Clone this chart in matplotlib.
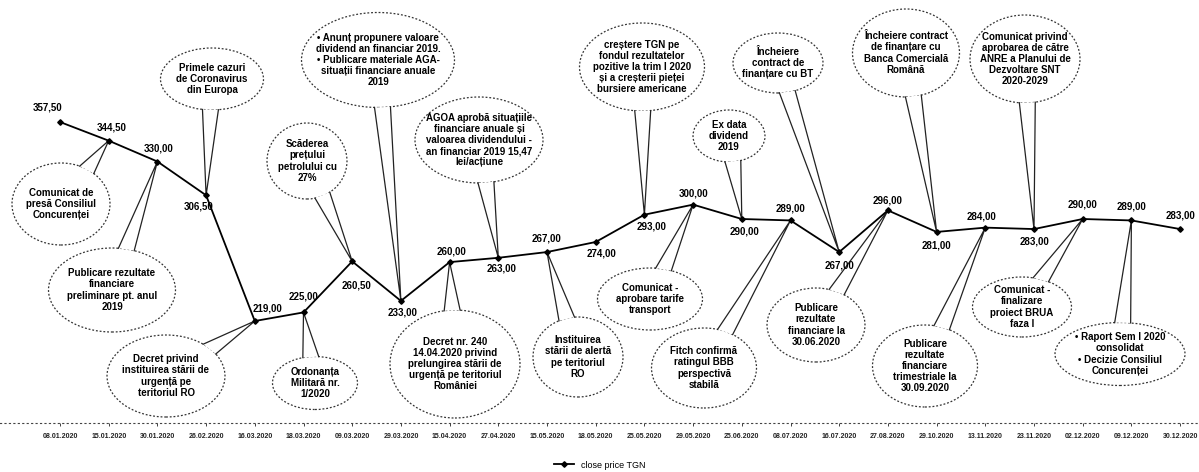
import numpy as np
import matplotlib
matplotlib.use('Agg')
import matplotlib.pyplot as plt
from matplotlib.patches import Ellipse, Polygon

plt.rcParams['font.family'] = ['Liberation Sans', 'DejaVu Sans']

dates = ['08.01.2020', '15.01.2020', '30.01.2020', '26.02.2020', '16.03.2020', '18.03.2020',
         '09.03.2020', '29.03.2020', '15.04.2020', '27.04.2020', '15.05.2020', '18.05.2020',
         '25.05.2020', '29.05.2020', '25.06.2020', '08.07.2020', '16.07.2020', '27.08.2020',
         '29.10.2020', '13.11.2020', '23.11.2020', '02.12.2020', '09.12.2020', '30.12.2020']
close_price = [357.5, 344.5, 330.0, 306.5, 219.0, 225.0, 260.5, 233.0, 260.0, 263.0, 267.0, 274.0,
               293.0, 300.0, 290.0, 289.0, 267.0, 296.0, 281.0, 284.0, 283.0, 290.0, 289.0, 283.0]

# evenimente: (index punct, text)
events = [
    (1, 'Comunicat de\npresă Consiliul\nConcurenței'),
    (2, 'Publicare rezultate\nfinanciare\npreliminare pt. anul\n2019'),
    (3, 'Primele cazuri\nde Coronavirus\ndin Europa'),
    (4, 'Decret privind\ninstituirea stării de\nurgență pe\nteritoriul RO'),
    (5, 'Ordonanța\nMilitară nr.\n1/2020'),
    (6, 'Scăderea\nprețului\npetrolului cu\n27%'),
    (7, '• Anunț propunere valoare\ndividend an financiar 2019.\n• Publicare materiale AGA-\nsituații financiare anuale\n2019'),
    (9, 'AGOA aprobă situațiile\nfinanciare anuale și\nvaloarea dividendului -\nan financiar 2019 15,47\nlei/acțiune'),
    (8, 'Decret nr. 240\n14.04.2020 privind\nprelungirea stării de\nurgență pe teritoriul\nRomâniei'),
    (10, 'Instituirea\nstării de alertă\npe teritoriul\nRO'),
    (12, 'creștere TGN pe\nfondul rezultatelor\npozitive la trim I 2020\nși a creșterii pieței\nbursiere americane'),
    (13, 'Comunicat -\naprobare tarife\ntransport'),
    (14, 'Ex data\ndividend\n2019'),
    (15, 'Fitch confirmă\nratingul BBB\nperspectivă\nstabilă'),
    (16, 'Încheiere\ncontract de\nfinanțare cu BT'),
    (17, 'Publicare\nrezultate\nfinanciare la\n30.06.2020'),
    (18, 'Încheiere contract\nde finanțare cu\nBanca Comercială\nRomână'),
    (20, 'Comunicat privind\naprobarea de către\nANRE a Planului de\nDezvoltare SNT\n2020-2029'),
    (19, 'Publicare\nrezultate\nfinanciare\ntrimestriale la\n30.09.2020'),
    (21, 'Comunicat -\nfinalizare\nproiect BRUA\nfaza I'),
    (22, '• Raport Sem I 2020\nconsolidat\n• Decizie Consiliul\nConcurenței'),
]

# layout: centru balon (px), latime, inaltime
bubbles = [(61, 204, 98, 82), (112, 290, 127, 84), (212, 79, 103, 62), (166, 376, 118, 82),
           (315, 383, 85, 53), (307, 161, 80, 76), (378, 60, 153, 95), (479, 140, 128, 86),
           (455, 364, 130, 108), (578, 357, 90, 80), (642, 67, 125, 88), (650, 299, 105, 62),
           (729, 136, 72, 52), (704, 368, 105, 80), (778, 63, 90, 60), (816, 325, 98, 74),
           (906, 53, 107, 88), (1025, 59, 110, 88), (925, 366, 105, 82), (1022, 307, 99, 60),
           (1120, 354, 130, 63)]
label_off = [(-12, 14), (3, 13), (1, 13), (-8, -11), (13, 13), (0, 16), (4, -24), (2, -12),
             (2, 11), (3, -11), (0, 14), (6, -12), (7, -12), (0, 11), (3, -13), (0, 12),
             (0, -13), (0, 10), (0, -14), (-4, 11), (0, -12), (0, 14), (0, 14), (0, 14)]

W, H = 1199, 472
fig = plt.figure(figsize=(W / 100, H / 100), dpi=100)
ax = fig.add_axes([0, (H - 423) / H, 1, 423 / H])
x = np.arange(len(dates))
ax.set_xlim(-60 / 48.7, (W - 60) / 48.7)
ax.set_ylim(357.5 - (423 - 122) / 1.437, 357.5 + 122 / 1.437)

ax.plot(x, close_price, color='black', lw=1.3, marker='D', ms=2.8, zorder=8,
        label='close price TGN')
for i, v in enumerate(close_price):
    ax.annotate(f'{v:.2f}'.replace('.', ','), (i, v), xytext=label_off[i],
                textcoords='offset pixels', ha='center', va='center',
                fontsize=7, fontweight='bold', zorder=9)

tf = fig.transFigure
to_fig = tf.inverted()
for (idx, txt), (cx, cy, w, h) in zip(events, bubbles):
    cy_up = H - cy
    tx, ty = ax.transData.transform((idx, close_price[idx]))
    a, b = w / 2, h / 2
    t0 = np.arctan2((ty - cy_up) / b, (tx - cx) / a)
    r = np.sqrt((a * np.sin(t0)) ** 2 + (b * np.cos(t0)) ** 2)
    d = 8 / r
    pts = [(cx + a * np.cos(t0 - d), cy_up + b * np.sin(t0 - d)),
           (tx, ty),
           (cx + a * np.cos(t0 + d), cy_up + b * np.sin(t0 + d))]
    pts = to_fig.transform(pts)
    ax.add_patch(Ellipse((cx / W, cy_up / H), w / W, h / H, transform=tf,
                         facecolor='white', edgecolor='#333333', lw=0.9,
                         linestyle=(0, (1.5, 1.5)), zorder=2, clip_on=False))
    ax.add_patch(Polygon(pts, closed=True, transform=tf, facecolor='white',
                         edgecolor='none', zorder=3, clip_on=False))
    ax.add_line(plt.Line2D(pts[:, 0], pts[:, 1], transform=tf, color='#222222',
                           lw=0.9, zorder=4, clip_on=False))
    ax.text(cx / W, cy_up / H, txt, transform=tf, ha='center', va='center',
            fontsize=7, fontweight='bold', linespacing=1.15, zorder=5)

ax.set_xticks(x)
ax.set_xticklabels(dates, fontsize=5, fontweight='bold')
ax.tick_params(axis='x', length=2, width=0.6, pad=5, colors='#222222')
ax.set_yticks([])
for s in ['top', 'right', 'left']:
    ax.spines[s].set_visible(False)
ax.spines['bottom'].set_linestyle((0, (1, 3)))
ax.spines['bottom'].set_color('#444444')
ax.spines['bottom'].set_linewidth(0.8)
ax.patch.set_alpha(0)

fig.legend(loc='center', bbox_to_anchor=(0.5, (H - 465) / H), frameon=False,
           fontsize=6.5, handlelength=2.2)

fig.savefig('out.png', dpi=100)
